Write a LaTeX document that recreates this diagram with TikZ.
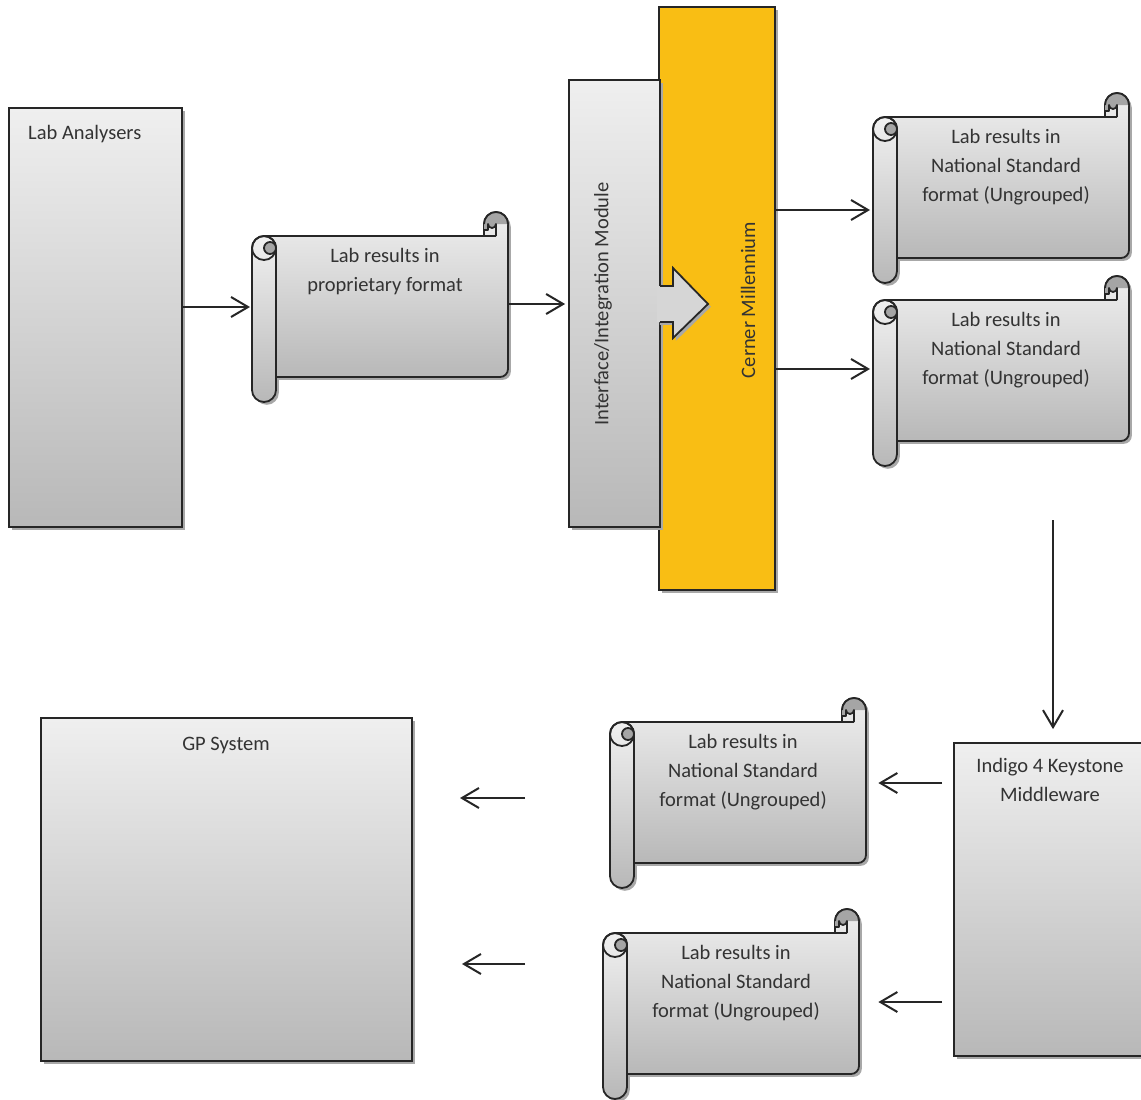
\documentclass[tikz,border=0pt]{standalone}
\usepackage{fontspec}
\setmainfont{Carlito}
\usetikzlibrary{arrows.meta,shadows}
\definecolor{lc}{HTML}{262626}
\definecolor{txt}{HTML}{333333}
\definecolor{gtop}{HTML}{EFEFEF}
\definecolor{gbot}{HTML}{B8B8B8}
\definecolor{darkc}{HTML}{A5A5A5}
\definecolor{arrc}{HTML}{D6D6D6}
\definecolor{cernerc}{RGB}{249,190,20}
\definecolor{shadowc}{HTML}{A8A8A8}
\tikzset{
 shad/.style={drop shadow={shadow xshift=2.8pt,shadow yshift=-2.8pt,fill=shadowc,opacity=1}},
 gbox/.style={draw=lc, line width=1.8pt, top color=gtop, bottom color=gbot, shad, inner sep=0pt},
 outl/.style={draw=lc, line width=1.8pt, line join=round},
 arr/.style={draw=lc, line width=2pt, -{Straight Barb[length=17pt,width=20pt]}},
 lbl/.style={text=txt, font=\fontsize{20.5}{29}\selectfont, align=center, inner sep=0pt},
}
\newcommand{\myscroll}[3]{%
 \pgfmathsetmacro\sL{#2}\pgfmathsetmacro\sT{#3}%
 \pgfmathsetmacro\sR{#2+232}\pgfmathsetmacro\sB{#3+141}%
 \pgfmathsetmacro\sRa{\sR-24}\pgfmathsetmacro\sRb{\sR-12}\pgfmathsetmacro\sRc{\sR-20}%
 \pgfmathsetmacro\sTa{\sT-12}\pgfmathsetmacro\sTb{\sT-6}%
 \pgfmathsetmacro\sLa{\sL-24}\pgfmathsetmacro\sLb{\sL-12}\pgfmathsetmacro\sLc{\sL-6}%
 \pgfmathsetmacro\sTc{\sT+12}\pgfmathsetmacro\sBa{\sB+13}\pgfmathsetmacro\sBb{\sB-8}%
 \pgfmathsetmacro\sM{(\sL+\sR)/2-7}\pgfmathsetmacro\sTt{\sT+12}%
 \node[inner sep=0pt,minimum width=256pt,minimum height=141pt,anchor=north west] (#1) at (\sLa,\sT) {};
 % roll shadow
 \path[shad] (\sLa,\sTc) arc[start angle=180,end angle=0,radius=12pt] -- (\sL,\sBa) arc[start angle=0,end angle=-180,radius=12pt] -- cycle;
 % body
 \path[outl, top color=gtop, bottom color=gbot, shad] (\sLb,\sT) -- (\sRa,\sT) -- (\sRa,\sTa) arc[start angle=180,end angle=0,radius=12pt] -- (\sR,\sBb) arc[start angle=0,end angle=-90,radius=8pt] -- (\sLb,\sB) -- cycle;
 % top-right curl
 \fill[darkc] (\sRa,\sTb) -- (\sRa,\sTa) arc[start angle=180,end angle=0,radius=12pt] -- (\sRb,\sTa) arc[start angle=0,end angle=-180,radius=4pt] -- (\sRc,\sTb) -- cycle;
 \draw[outl] (\sRa,\sTa) arc[start angle=180,end angle=0,radius=12pt];
 \draw[outl] (\sRb,\sT) -- (\sRb,\sTa) arc[start angle=0,end angle=-180,radius=4pt] -- (\sRc,\sTb) -- (\sRa,\sTb);
 \draw[outl] (\sRa,\sT) -- (\sRb,\sT);
 % left roll
 \path[outl, top color=gtop!90!white, bottom color=gbot] (\sLa,\sTc) arc[start angle=180,end angle=0,radius=12pt] -- (\sL,\sBa) arc[start angle=0,end angle=-180,radius=12pt] -- cycle;
 \draw[outl] (\sLb,\sTc) circle[radius=12pt];
 \path[outl, fill=darkc] (\sLc,\sTc) circle[radius=6pt];
}
\begin{document}
\begin{tikzpicture}[x=1pt,y=-1pt]
\useasboundingbox (0,0) rectangle (1141,1100);
\fill[white] (0,0) rectangle (1141,1100);

% Lab analysers
\node[gbox, minimum width=173pt, minimum height=419pt] (lab) at (95.5,317.5) {};
\node[lbl, anchor=base west] (labT) at (28,139) {Lab Analysers};

% Cerner + Interface
\node[draw=lc, line width=1.8pt, fill=cernerc, shad, minimum width=116pt, minimum height=583pt, inner sep=0pt] (cerner) at (717,298.5) {};
\node[gbox, minimum width=91pt, minimum height=447pt] (iface) at (614.5,303.5) {};
\path[shad, fill=arrc] (657,286) -- (673,286) -- (673,268) -- (708,304) -- (673,338) -- (673,322) -- (657,322) -- cycle;
\draw[outl, line join=miter] (660,286) -- (673,286) -- (673,268) -- (708,304) -- (673,338) -- (673,322) -- (660,322);
\node[lbl, rotate=90] (ifT) at (603,304) {Interface/Integration Module};
\node[lbl, rotate=90] (cT) at (748,300) {Cerner Millennium};

% Scrolls
\myscroll{s1}{276}{236}
\node[lbl, anchor=north] (s1t) at (\sM,\sTt) {Lab results in\\proprietary format};
\myscroll{s2}{897}{117}
\node[lbl, anchor=north] (s2t) at (\sM,\sTt) {Lab results in\\National Standard\\format (Ungrouped)};
\myscroll{s3}{897}{300}
\node[lbl, anchor=north] (s3t) at (\sM,\sTt) {Lab results in\\National Standard\\format (Ungrouped)};
\myscroll{s4}{634}{722}
\node[lbl, anchor=north] (s4t) at (\sM,\sTt) {Lab results in\\National Standard\\format (Ungrouped)};
\myscroll{s5}{627}{933}
\node[lbl, anchor=north] (s5t) at (\sM,\sTt) {Lab results in\\National Standard\\format (Ungrouped)};

% GP and Indigo
\node[gbox, minimum width=371pt, minimum height=343pt] (gp) at (226.5,889.5) {};
\node[lbl, anchor=base] (gpT) at (226,750) {GP System};
\node[gbox, minimum width=192pt, minimum height=313pt] (indigo) at (1050,899.5) {};
\node[lbl, anchor=north] (inT) at (1050,758) {Indigo 4 Keystone\\Middleware};

% connectors
\draw[arr, shorten >=2pt] (lab.east |- 0,307) -- (s1.west |- 0,307);
\draw[arr, shorten >=3pt] (s1.east |- 0,304) -- (iface.west |- 0,304);
\draw[arr, shorten >=3pt] (cerner.east |- 0,210) -- (s2.west |- 0,210);
\draw[arr, shorten >=3pt] (cerner.east |- 0,369) -- (s3.west |- 0,369);
\coordinate (dstart) at (1053,520);
\draw[arr, shorten >=13pt] (dstart) -- (dstart |- indigo.north);
\draw[arr, shorten <=11pt, shorten >=12pt] (indigo.west |- 0,783) -- (s4.east |- 0,783);
\draw[arr, shorten <=11pt, shorten >=19pt] (indigo.west |- 0,1002) -- (s5.east |- 0,1002);
\coordinate (f1s) at (525,798);
\coordinate (f1e) at (460,798);
\draw[arr] (f1s) -- (f1e);
\coordinate (f2s) at (525,964);
\coordinate (f2e) at (462,964);
\draw[arr] (f2s) -- (f2e);
\end{tikzpicture}
\end{document}
